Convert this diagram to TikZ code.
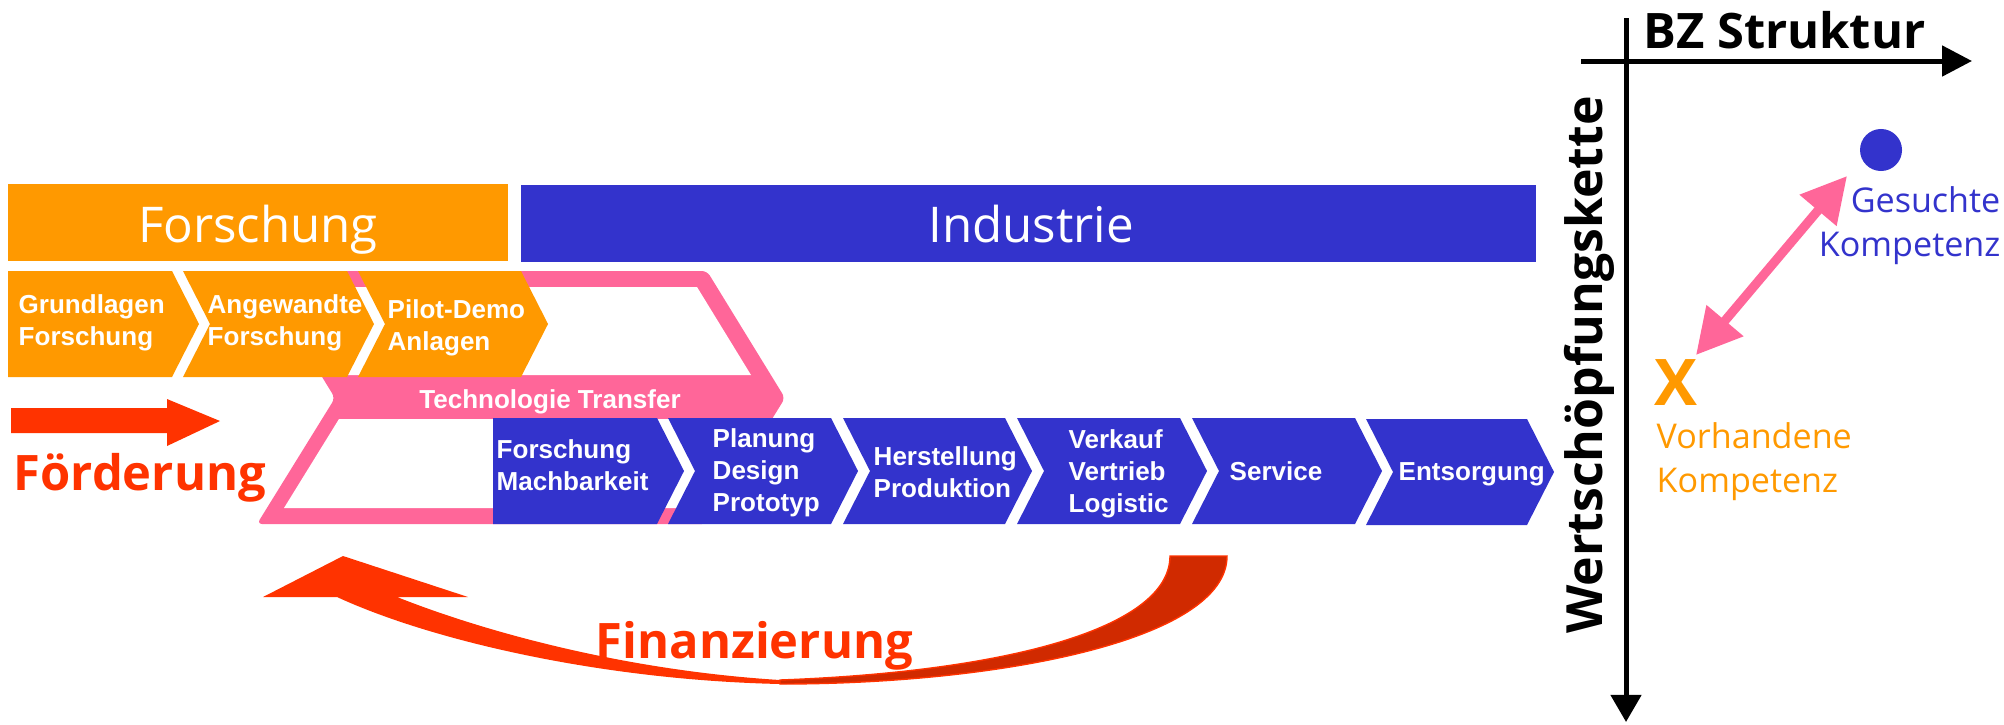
\documentclass[tikz,border=0pt]{standalone}
\usepackage{fontspec}
\setmainfont{Open Sans}
\newfontfamily\arialfont{Liberation Sans}
\usetikzlibrary{arrows.meta}
\definecolor{fhorange}{RGB}{255,153,0}
\definecolor{fhblue}{RGB}{51,51,204}
\definecolor{fhpink}{RGB}{255,102,153}
\definecolor{fhred}{RGB}{255,51,0}
\definecolor{fhdark}{RGB}{208,42,0}
\newcommand\linesL[1]{\begin{tabular}[t]{@{}l@{}}#1\end{tabular}}
\newcommand\linesR[1]{\begin{tabular}[t]{@{}r@{}}#1\end{tabular}}
\begin{document}
\begin{tikzpicture}[x=0.01cm,y=-0.01cm,
  chevtxt/.style={text=white, inner sep=0pt, anchor=base west, font=\arialfont\bfseries\fontsize{7.4}{9.1}\selectfont},
  headtxt/.style={text=white, inner sep=0pt, anchor=base, font=\fontsize{14}{16}\selectfont},
  bigbold/.style={inner sep=0pt, font=\bfseries\fontsize{13.9}{16}\selectfont},
  kompt/.style={inner sep=0pt, font=\fontsize{9.7}{12.6}\selectfont},
  orchev/.style={fill=fhorange},
  bluechev/.style={fill=fhblue},
  axisline/.style={line width=1.42pt},
]
\useasboundingbox (0,0) rectangle (2004,724);

% header boxes
\fill[fhorange] (8,184) rectangle (508,261);
\node[headtxt] (forschung) at (258,242) {Forschung};
\fill[fhblue] (521,185) rectangle (1536,262);
\node[headtxt] (industrie) at (1031,242) {Industrie};

% pink technology transfer chevron
\fill[fhpink, rounded corners=1.5pt] (257,271) -- (707,271) -- (785,398) -- (707,524) -- (257,524) -- (335,398) -- cycle;
\fill[white] (286,287) -- (697,287) -- (751,375) -- (340,375) -- cycle;
\fill[white] (339,419) -- (753,419) -- (699,508) -- (284,508) -- cycle;
\node[chevtxt, anchor=base] (tt) at (550,408) {Technologie Transfer};

% orange chevrons
\path[orchev] (8,271) -- (172,271) -- (199,324) -- (172,377) -- (8,377) -- cycle;
\path[orchev] (183,271) -- (347,271) -- (374,324) -- (347,377) -- (183,377) -- (210,324) -- cycle;
\path[orchev] (358,271) -- (521,271) -- (548,324) -- (521,377) -- (358,377) -- (385,324) -- cycle;

% blue chevrons
\path[bluechev] (493,418) -- (657,418) -- (684,471) -- (657,524) -- (493,524) -- cycle;
\path[bluechev] (668,418) -- (831,418) -- (858,471) -- (831,524) -- (668,524) -- (695,471) -- cycle;
\path[bluechev] (843,418) -- (1005,418) -- (1032,471) -- (1005,524) -- (843,524) -- (870,471) -- cycle;
\path[bluechev] (1017,418) -- (1180,418) -- (1207,471) -- (1180,524) -- (1017,524) -- (1044,471) -- cycle;
\path[bluechev] (1192,418) -- (1355,418) -- (1382,471) -- (1355,524) -- (1192,524) -- (1219,471) -- cycle;
\path[bluechev] (1366,419) -- (1527,419) -- (1554,472) -- (1527,525) -- (1366,525) -- (1393,472) -- cycle;

% chevron texts
\node[chevtxt] (c1) at (18,313) {\linesL{Grundlagen\\Forschung}};
\node[chevtxt] (c2) at (207,313) {\linesL{Angewandte\\Forschung}};
\node[chevtxt] (c3) at (387,318) {\linesL{Pilot-Demo\\Anlagen}};
\node[chevtxt] (b1) at (496,458) {\linesL{Forschung\\Machbarkeit}};
\node[chevtxt] (b2) at (712,447) {\linesL{Planung\\Design\\Prototyp}};
\node[chevtxt] (b3) at (873,465) {\linesL{Herstellung\\Produktion}};
\node[chevtxt] (b4) at (1068,448) {\linesL{Verkauf\\Vertrieb\\Logistic}};
\node[chevtxt] (b5) at (1229,480) {Service};
\node[chevtxt] (b6) at (1398,480) {Entsorgung};

% Foerderung arrow
\fill[fhred] (11,408) -- (167,408) -- (167,399) -- (220,421) -- (167,446) -- (167,433) -- (11,433) -- cycle;
\node[bigbold, text=fhred, anchor=base west] (foerd) at (13,490) {Förderung};

% Finanzierung arrow
\fill[fhred] (263,597) -- (343,556) -- (468,597) -- (397,597)
  .. controls (480,630) and (620,670) .. (780,680) -- (780,684)
  .. controls (600,680) and (430,640) .. (337,597) -- cycle;
\filldraw[fill=fhdark, draw=fhred, line width=0.4pt] (780,680) .. controls (1000,672) and (1170,630) .. (1170,556)
  -- (1227,556) .. controls (1227,640) and (1000,684) .. (780,684) -- cycle;
\node[bigbold, text=fhred, anchor=base west] (finanz) at (595,658) {Finanzierung};

% axes
\coordinate (hx0) at (1581,61);
\coordinate (hx1) at (1972,61);
\coordinate (vy0) at (1626,18);
\coordinate (vy1) at (1626,722);
\draw[axisline, -{Triangle[length=8.5pt,width=8.5pt]}] (hx0) -- (hx1);
\draw[axisline, -{Triangle[length=7.7pt,width=8.5pt]}] (vy0) -- (vy1);
\node[bigbold, anchor=base west] (bz) at (1643,48) {BZ Struktur};
\node[inner sep=0pt, font=\bfseries\fontsize{14.2}{16}\selectfont, rotate=90, anchor=base] (wsk) at (1602,365) {Wertschöpfungskette};

% competence points
\coordinate (dot) at (1881,150);
\fill[fhblue] (dot) circle[radius=0.21cm];
\node[kompt, text=fhblue, anchor=base east] (ges) at (2001,212) {\linesR{Gesuchte\\Kompetenz}};
\node[inner sep=0pt, font=\bfseries\fontsize{18.3}{20}\selectfont, text=fhorange, anchor=base] (xmark) at (1676,405) {X};
\node[kompt, text=fhorange, anchor=base west] (vor) at (1656,448) {\linesL{Vorhandene\\Kompetenz}};
\coordinate (pa) at (1696,355);
\coordinate (pb) at (1847,176);
\draw[fhpink, line width=2.6pt, {Triangle[length=12.8pt,width=13.1pt]}-{Triangle[length=12.8pt,width=13.1pt]}] (pa) -- (pb);
\end{tikzpicture}
\end{document}
